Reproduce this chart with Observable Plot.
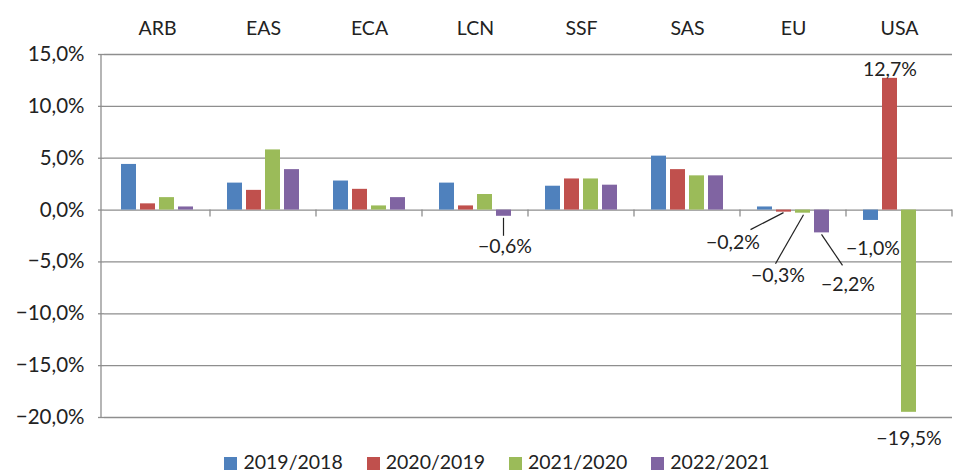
<!DOCTYPE html>
<html><head><meta charset="utf-8">
<script src="https://cdn.jsdelivr.net/npm/d3@7"></script>
<script src="https://cdn.jsdelivr.net/npm/@observablehq/plot@0.6"></script>
<style>
body{margin:0;background:#fff;font-family:Lato,"Open Sans",sans-serif;}
#legend{display:flex;justify-content:center;gap:24px;font-size:19.5px;line-height:22px;color:#222;padding-left:40px;margin-top:-1px;}
#legend span.sw{display:inline-block;width:13px;height:13px;margin-right:6px;vertical-align:-1px;}
</style></head><body><div id="chart"></div><div id="legend"></div>
<script>
// ---- data ----
const regions = ["ARB","EAS","ECA","LCN","SSF","SAS","EU","USA"];
const series = ["2019/2018","2020/2019","2021/2020","2022/2021"];
const v2019 = [4.4, 2.6, 2.8, 2.6, 2.3, 5.2, 0.3, -1.0];
const v2020 = [0.6, 1.9, 2.0, 0.4, 3.0, 3.9, -0.2, 12.7];
const v2021 = [1.2, 5.8, 0.4, 1.5, 3.0, 3.3, -0.3, -19.5];
const v2022 = [0.3, 3.9, 1.2, -0.6, 2.4, 3.3, -2.2, null];
const yTicks = [-20, -15, -10, -5, 0, 5, 10, 15];
const labelled = [["LCN","2022/2021"],["EU","2020/2019"],["EU","2021/2020"],["EU","2022/2021"],["USA","2019/2018"],["USA","2020/2019"],["USA","2021/2020"]];

// ---- styling / layout (kept apart from data) ----
const colors = ["#4F81BD","#C0504D","#9BBB59","#8064A2"];
const grid = "#8e8e8e";
// label offsets from the bar end (px) and optional leader lines [x1,y1,x2,y2] relative to bar end
const labelLayout = {
  "LCN|2022/2021": {dx: 1, dy: 30, leader: [0, 2, 0, 20]},
  "EU|2020/2019": {dx: -51, dy: 31, leader: [0, 1, -33, 18]},
  "EU|2021/2020": {dx: -25, dy: 63, leader: [1, 2, -27, 51]},
  "EU|2022/2021": {dx: 26, dy: 52, leader: [0, 2, 21, 33]},
  "USA|2019/2018": {dx: 2, dy: 28},
  "USA|2020/2019": {dx: 0, dy: -9},
  "USA|2021/2020": {dx: 0, dy: 26}
};

const valuesBySeries = [v2019, v2020, v2021, v2022];
const data = [];
regions.forEach((r, i) => series.forEach((s, j) => {
  const v = valuesBySeries[j][i];
  if (v != null) data.push({region: r, series: s, value: v});
}));
const fmt = v => (v < 0 ? "\u2212" : "") + Math.abs(v).toFixed(1).replace(".", ",") + "%";

const labelMarks = labelled.map(([r, s]) => {
  const d = data.find(e => e.region === r && e.series === s);
  const L = labelLayout[r + "|" + s];
  return Plot.text([d], {fx: "region", x: "series", y: "value", text: d => fmt(d.value), dx: L.dx, dy: L.dy, fill: "#222", fontSize: 19.5});
});

const chart = Plot.plot({
  width: 954, height: 452,
  marginLeft: 101, marginRight: 0, marginTop: 54, marginBottom: 35,
  style: {fontFamily: "Lato, 'Open Sans', sans-serif", fontSize: "19.5px", color: "#222", background: "#fff"},
  fx: {domain: regions, padding: 0},
  x: {domain: series, paddingInner: 0.23, paddingOuter: 0.87, axis: null},
  y: {domain: [-20, 15]},
  color: {domain: series, range: colors},
  marks: [
    Plot.gridY(yTicks, {stroke: grid, strokeOpacity: 1, strokeWidth: 1.3}),
    Plot.axisY({ticks: yTicks, tickFormat: fmt, tickSize: 6, tickPadding: 14, stroke: grid, strokeWidth: 1.3, label: null, fontSize: 20.5}),
    Plot.axisFx({anchor: "top", tickSize: 0, tickPadding: 20, label: null}),
    Plot.barY(data, {fx: "region", x: "series", y: "value", fill: "series"}),
    ...labelMarks
  ]
});
document.getElementById("chart").appendChild(chart);

// extra axis lines & leader lines positioned via the chart's scales
const fx = chart.scale("fx"), x = chart.scale("x"), y = chart.scale("y");
const svg = d3.select(chart);
const g = svg.append("g").attr("stroke", grid).attr("stroke-width", 1.3);
const left = fx.range[0];
g.append("line").attr("x1", left).attr("x2", left).attr("y1", y.apply(15)).attr("y2", y.apply(-20));
regions.forEach(r => {
  const bx = fx.apply(r) + fx.bandwidth;
  g.append("line").attr("x1", bx).attr("x2", bx).attr("y1", y.apply(0)).attr("y2", y.apply(0) + 7);
});
const lg = svg.append("g").attr("stroke", "#222").attr("stroke-width", 1.2);
labelled.forEach(([r, s]) => {
  const L = labelLayout[r + "|" + s];
  if (!L.leader) return;
  const d = data.find(e => e.region === r && e.series === s);
  const cx = fx.apply(r) + x.apply(s) - x.range[0] + x.bandwidth / 2;
  const cy = y.apply(d.value);
  const [a, b, c, e] = L.leader;
  lg.append("line").attr("x1", cx + a).attr("y1", cy + b).attr("x2", cx + c).attr("y2", cy + e);
});

// legend
const leg = d3.select("#legend");
series.forEach((s, i) => {
  const it = leg.append("div");
  it.append("span").attr("class", "sw").style("background", colors[i]);
  it.append("span").text(s);
});
</script></body></html>
